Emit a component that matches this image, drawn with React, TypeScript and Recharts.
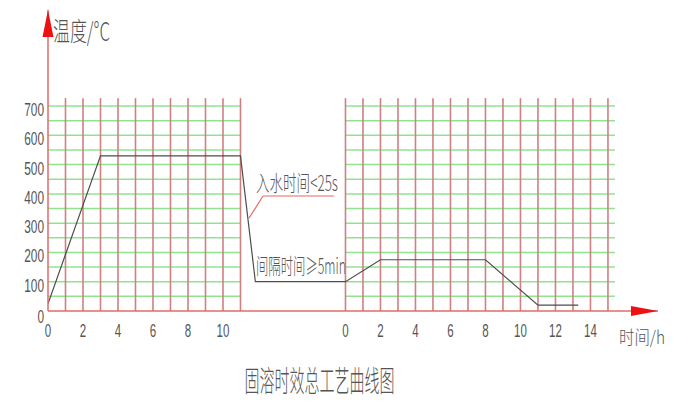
import { LineChart, Line, XAxis, YAxis, ReferenceLine, ReferenceDot, Customized } from 'recharts';

// process curve, left stage (solution) and right stage (ageing), hours / °C
const leftHours = [0, 3, 11, 11.85];
const leftTemps = [25, 530, 530, 100];
const rightHours = [0, 2, 8, 11, 13.3];
const rightTemps = [100, 175, 175, 20, 20];

// grid
const leftGridHours = [0, 1, 2, 3, 4, 5, 6, 7, 8, 9, 10, 11];
const rightGridHours = [0, 1, 2, 3, 4, 5, 6, 7, 8, 9, 10, 11, 12, 13, 14, 15];
const gridTemps = [50, 100, 150, 200, 250, 300, 350, 400, 450, 500, 550, 600, 650, 700];
const leftTicks = [0, 2, 4, 6, 8, 10];
const rightTicks = [0, 2, 4, 6, 8, 10, 12, 14];
const tempTicks = [0, 100, 200, 300, 400, 500, 600, 700];

const RIGHT_OFFSET = 17;
const X_MAX = 34.86;
const Y_MAX = 1028;
const GRID_TOP = 727;
const RIGHT_GRID_END = 15.4;

// leader line for the quench note
const quenchLeader = [
  { x: 11.49, y: 317.5 },
  { x: 12.29, y: 392.7 },
  { x: 16.34, y: 392.7 },
];

const data = [
  ...leftHours.map((h, i) => ({ pos: h, temp: leftTemps[i] })),
  ...rightHours.map((h, i) => ({ pos: h + RIGHT_OFFSET, temp: rightTemps[i] })),
];

const xTicks = [...leftTicks, ...rightTicks.map((h) => h + RIGHT_OFFSET)];

const RED_V = '#cf8080';
const GREEN = '#8fe48f';
const AXIS = '#e06a6a';
const ARROW = '#ee1111';
const INK = '#555555';
const NARROW = "'Liberation Sans Narrow', 'Liberation Sans', sans-serif";
const CJK = "'Noto Sans CJK SC', sans-serif";

function CadText({ x, y, text, size, width, anchor = 'start', family = CJK }: any) {
  return (
    <text
      x={x}
      y={y}
      fontSize={size}
      fontFamily={family}
      fontWeight={300}
      textLength={width}
      lengthAdjust="spacingAndGlyphs"
      textAnchor={anchor}
      fill={INK}
    >
      {text}
    </text>
  );
}

const XTick = ({ x, y, payload }: any) => {
  const v = payload.value >= RIGHT_OFFSET ? payload.value - RIGHT_OFFSET : payload.value;
  const s = String(v);
  return <CadText x={x} y={y + 26} text={s} size={19} width={s.length * 6.4} anchor="middle" family={NARROW} />;
};

const YTick = ({ x, y, payload }: any) => {
  const s = String(payload.value);
  return (
    <CadText
      x={x - 4}
      y={y + (payload.value === 0 ? 12 : 10)}
      text={s}
      size={18}
      width={s.length * 6.6}
      anchor="end"
      family={NARROW}
    />
  );
};

const Texts = () => (
  <g>
    <CadText x={53} y={41} text="温度/°C" size={26} width={57} />
    <CadText x={619} y={344} text="时间/h" size={18} width={46} />
    <CadText x={256} y={191} text="入水时间<25s" size={22} width={82} />
    <CadText x={256} y={274} text="间隔时间≥5min" size={22} width={90} />
    <CadText x={319.5} y={392} text="固溶时效总工艺曲线图" size={29} width={150} anchor="middle" />
  </g>
);

const XArrow = ({ cx, cy }: any) => (
  <polygon points={`${cx},${cy} ${cx - 27},${cy - 5} ${cx - 27},${cy + 5}`} fill={ARROW} />
);
const YArrow = ({ cx, cy }: any) => (
  <polygon points={`${cx},${cy} ${cx - 5.5},${cy + 27} ${cx + 5.5},${cy + 27}`} fill={ARROW} />
);

export default function App() {
  return (
    <div style={{ position: 'absolute', left: 0, top: 0, background: '#fff' }}>
      <LineChart width={677} height={411} data={data} margin={{ top: 10, right: 19, bottom: 70, left: 0 }}>
        <XAxis
          type="number"
          dataKey="pos"
          domain={[0, X_MAX]}
          allowDataOverflow
          ticks={xTicks}
          interval={0}
          tick={<XTick />}
          tickLine={false}
          tickSize={0}
          tickMargin={0}
          height={30}
          axisLine={{ stroke: AXIS, strokeWidth: 1.5 }}
        />
        <YAxis
          type="number"
          domain={[0, Y_MAX]}
          allowDataOverflow
          ticks={tempTicks}
          interval={0}
          tick={<YTick />}
          tickLine={false}
          tickSize={0}
          tickMargin={0}
          width={48}
          axisLine={{ stroke: AXIS, strokeWidth: 1.5 }}
        />
        {gridTemps.map((t) => (
          <ReferenceLine
            key={`lh${t}`}
            segment={[{ x: 0, y: t }, { x: leftGridHours[leftGridHours.length - 1], y: t }]}
            stroke={GREEN}
            strokeWidth={1.5}
          />
        ))}
        {gridTemps.map((t) => (
          <ReferenceLine
            key={`rh${t}`}
            segment={[{ x: RIGHT_OFFSET, y: t }, { x: RIGHT_OFFSET + RIGHT_GRID_END, y: t }]}
            stroke={GREEN}
            strokeWidth={1.5}
          />
        ))}
        {leftGridHours.slice(1).map((h) => (
          <ReferenceLine
            key={`lv${h}`}
            segment={[{ x: h, y: 0 }, { x: h, y: GRID_TOP }]}
            stroke={RED_V}
            strokeWidth={1.6}
          />
        ))}
        {rightGridHours.map((h) => (
          <ReferenceLine
            key={`rv${h}`}
            segment={[{ x: h + RIGHT_OFFSET, y: 0 }, { x: h + RIGHT_OFFSET, y: GRID_TOP }]}
            stroke={RED_V}
            strokeWidth={1.6}
          />
        ))}
        <ReferenceLine segment={[quenchLeader[0], quenchLeader[1]]} stroke={AXIS} strokeWidth={1.2} />
        <ReferenceLine segment={[quenchLeader[1], quenchLeader[2]]} stroke={AXIS} strokeWidth={1.2} />
        <Line
          type="linear"
          dataKey="temp"
          stroke="#4d4d4d"
          strokeWidth={1.2}
          dot={false}
          activeDot={false}
          isAnimationActive={false}
        />
        <ReferenceDot x={X_MAX} y={0} r={0} shape={<XArrow />} ifOverflow="visible" />
        <ReferenceDot x={0} y={Y_MAX} r={0} shape={<YArrow />} ifOverflow="visible" />
        <Customized component={<Texts />} />
      </LineChart>
    </div>
  );
}
